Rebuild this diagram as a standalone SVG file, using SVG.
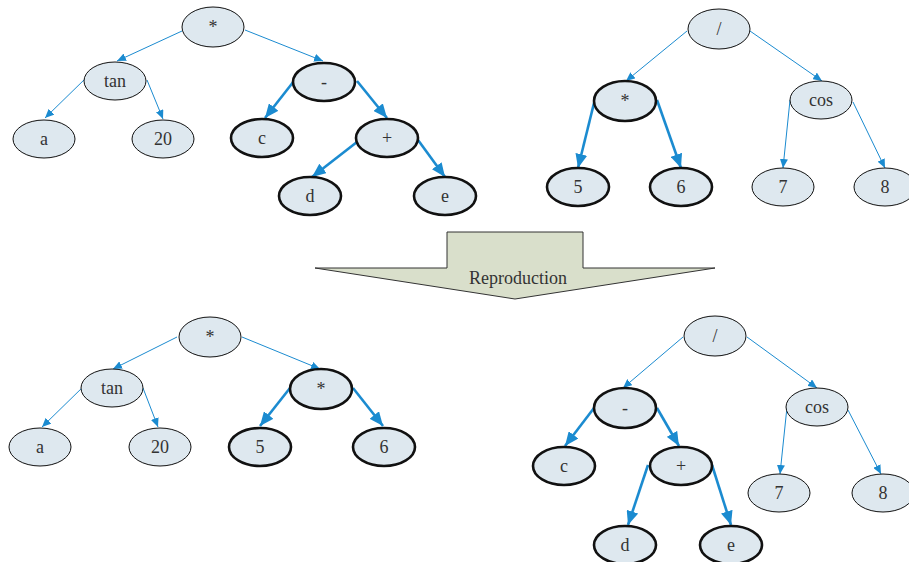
<svg xmlns="http://www.w3.org/2000/svg" width="909" height="562" viewBox="0 0 909 562">
<style>
.n ellipse{fill:#dee8ef;stroke:#111;stroke-width:1}
.b ellipse{fill:#dee8ef;stroke:#111;stroke-width:2.6}
text{font-family:"Liberation Serif","Times New Roman",serif;font-size:18px;fill:#333;text-anchor:middle}
.t{fill:none;stroke:#1b8bd0;stroke-width:1;marker-end:url(#as)}
.k{fill:none;stroke:#1b8bd0;stroke-width:2.6;marker-end:url(#al)}
</style>
<defs>
<marker id="as" markerUnits="userSpaceOnUse" markerWidth="9" markerHeight="8" refX="9" refY="4" orient="auto"><path d="M0,0 L9,4 L0,8 z" fill="#1b8bd0"/></marker>
<marker id="al" markerUnits="userSpaceOnUse" markerWidth="14" markerHeight="12" refX="14" refY="6" orient="auto"><path d="M0,0 L14,6 L0,12 z" fill="#1b8bd0"/></marker>
</defs>
<rect width="909" height="562" fill="#fff"/>
<g id="connectors">
<path class="t" d="M182,31 L117,61"/>
<path class="t" d="M245,30 L323,61"/>
<path class="t" d="M87,77 L45,118"/>
<path class="t" d="M147,80 L163,119"/>
<path class="k" d="M294,81 L265,118"/>
<path class="k" d="M357,81 L387,118"/>
<path class="k" d="M357,142 L312,177"/>
<path class="k" d="M418,140 L445,177"/>
<path class="t" d="M687,31 L626,81"/>
<path class="t" d="M750,31 L822,81"/>
<path class="t" d="M790,100 L783,168"/>
<path class="t" d="M853,102 L885,168"/>
<path class="k" d="M595,99 L578,168"/>
<path class="k" d="M657,100 L681,168"/>
<path class="t" d="M177,337 L113,369"/>
<path class="t" d="M242,337 L320,369"/>
<path class="t" d="M85,385 L42,427"/>
<path class="t" d="M143,388 L158,427"/>
<path class="k" d="M290,388 L260,426"/>
<path class="k" d="M353,388 L383,426"/>
<path class="t" d="M683,337 L623,388"/>
<path class="t" d="M747,337 L817,388"/>
<path class="t" d="M787,407 L780,474"/>
<path class="t" d="M848,410 L881,474"/>
<path class="k" d="M594,408 L565,446"/>
<path class="k" d="M657,408 L679,446"/>
<path class="k" d="M648,465 L628,525"/>
<path class="k" d="M712,465 L731,525"/>
</g>
<g id="reproduction">
<polygon points="447,232 583,232 583,268 715,268 515,299 315,268 447,268" fill="#d9dfcb" stroke="#333" stroke-width="1"/>
<text x="518" y="284">Reproduction</text>
</g>
<g id="t1-root" class="n"><ellipse cx="213" cy="27" rx="31" ry="20"/><text x="213" y="33">*</text></g>
<g id="t1-tan" class="n"><ellipse cx="115" cy="81" rx="31" ry="19"/><text x="115" y="87">tan</text></g>
<g id="t1-a" class="n"><ellipse cx="44" cy="139" rx="31" ry="19"/><text x="44" y="145">a</text></g>
<g id="t1-20" class="n"><ellipse cx="163" cy="139" rx="31" ry="19"/><text x="163" y="145">20</text></g>
<g id="t1-minus" class="b"><ellipse cx="324" cy="82" rx="31" ry="19"/><text x="324" y="88">-</text></g>
<g id="t1-c" class="b"><ellipse cx="262" cy="138" rx="31" ry="19"/><text x="262" y="144">c</text></g>
<g id="t1-plus" class="b"><ellipse cx="387" cy="138" rx="31" ry="19"/><text x="387" y="144">+</text></g>
<g id="t1-d" class="b"><ellipse cx="310" cy="196" rx="31" ry="19"/><text x="310" y="202">d</text></g>
<g id="t1-e" class="b"><ellipse cx="445" cy="196" rx="31" ry="19"/><text x="445" y="202">e</text></g>
<g id="t2-root" class="n"><ellipse cx="719" cy="29" rx="31" ry="20"/><text x="719" y="35">/</text></g>
<g id="t2-mul" class="b"><ellipse cx="625" cy="101" rx="31" ry="20"/><text x="625" y="107">*</text></g>
<g id="t2-cos" class="n"><ellipse cx="821" cy="100" rx="31" ry="19"/><text x="821" y="106">cos</text></g>
<g id="t2-5" class="b"><ellipse cx="578" cy="187" rx="31" ry="19"/><text x="578" y="193">5</text></g>
<g id="t2-6" class="b"><ellipse cx="681" cy="187" rx="31" ry="19"/><text x="681" y="193">6</text></g>
<g id="t2-7" class="n"><ellipse cx="783" cy="187" rx="31" ry="19"/><text x="783" y="193">7</text></g>
<g id="t2-8" class="n"><ellipse cx="885" cy="187" rx="31" ry="19"/><text x="885" y="193">8</text></g>
<g id="t3-root" class="n"><ellipse cx="210" cy="337" rx="31" ry="20"/><text x="210" y="343">*</text></g>
<g id="t3-tan" class="n"><ellipse cx="112" cy="388" rx="31" ry="19"/><text x="112" y="394">tan</text></g>
<g id="t3-a" class="n"><ellipse cx="40" cy="447" rx="31" ry="19"/><text x="40" y="453">a</text></g>
<g id="t3-20" class="n"><ellipse cx="160" cy="447" rx="31" ry="19"/><text x="160" y="453">20</text></g>
<g id="t3-mul" class="b"><ellipse cx="321" cy="389" rx="31" ry="20"/><text x="321" y="395">*</text></g>
<g id="t3-5" class="b"><ellipse cx="260" cy="447" rx="31" ry="19"/><text x="260" y="453">5</text></g>
<g id="t3-6" class="b"><ellipse cx="384" cy="447" rx="31" ry="19"/><text x="384" y="453">6</text></g>
<g id="t4-root" class="n"><ellipse cx="715" cy="336" rx="31" ry="20"/><text x="715" y="342">/</text></g>
<g id="t4-minus" class="b"><ellipse cx="625" cy="408" rx="31" ry="20"/><text x="625" y="414">-</text></g>
<g id="t4-cos" class="n"><ellipse cx="817" cy="407" rx="31" ry="19"/><text x="817" y="413">cos</text></g>
<g id="t4-c" class="b"><ellipse cx="564" cy="466" rx="31" ry="19"/><text x="564" y="472">c</text></g>
<g id="t4-plus" class="b"><ellipse cx="681" cy="466" rx="31" ry="19"/><text x="681" y="472">+</text></g>
<g id="t4-7" class="n"><ellipse cx="779" cy="493" rx="31" ry="19"/><text x="779" y="499">7</text></g>
<g id="t4-8" class="n"><ellipse cx="883" cy="493" rx="31" ry="19"/><text x="883" y="499">8</text></g>
<g id="t4-d" class="b"><ellipse cx="625" cy="545" rx="31" ry="19"/><text x="625" y="551">d</text></g>
<g id="t4-e" class="b"><ellipse cx="731" cy="545" rx="31" ry="19"/><text x="731" y="551">e</text></g>
</svg>
